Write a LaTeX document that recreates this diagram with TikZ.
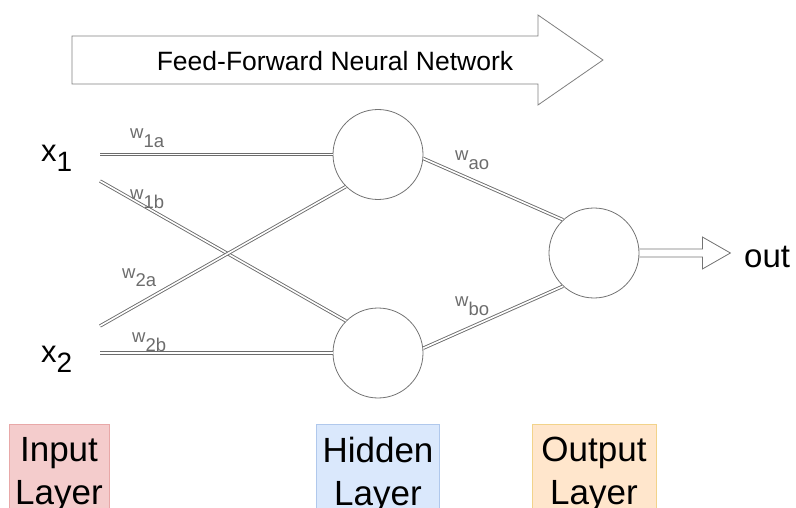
\documentclass[tikz,border=0pt]{standalone}
\usepackage{fontspec}
\setmainfont{Liberation Sans}
\usepackage{xcolor}
\usetikzlibrary{calc}

\definecolor{inputfill}{HTML}{F4CCCC}
\definecolor{inputline}{HTML}{E8A8A8}
\definecolor{hiddenfill}{HTML}{DAE8FC}
\definecolor{hiddenline}{HTML}{B0C8EC}
\definecolor{outputfill}{HTML}{FFE6CC}
\definecolor{outputline}{HTML}{F2D38A}

\newcommand{\wsub}[1]{w\raisebox{-9pt}{#1}}
\newcommand{\xsub}[1]{x\raisebox{-10pt}{\fontsize{28}{30}\selectfont #1}}

\begin{document}
\begin{tikzpicture}[x=1pt, y=-1pt]
\tikzset{
  neuron/.style={draw=gray!90!black, fill=white, circle, minimum size=90pt, inner sep=0pt, line width=0.8pt},
  wire/.style={draw=gray!85!black, double=white, double distance=1.6pt, line width=0.9pt},
  wlabel/.style={text=gray!85!black, font=\fontsize{18.5}{20}\selectfont, inner sep=0pt, anchor=base west},
  inlabel/.style={font=\fontsize{31}{33}\selectfont, inner sep=0pt, anchor=base west},
  layer/.style={draw, line width=0.8pt, anchor=north, align=center, inner xsep=6pt, inner ysep=13pt, font=\fontsize{35}{43}\selectfont},
}
\useasboundingbox (0,0) rectangle (796,508);
\clip (0,0) rectangle (796,508);

\draw[gray, line width=0.8pt, fill=white] (72,36) -- (538,36) -- (538,15) -- (603,60) -- (538,105) -- (538,84) -- (72,84) -- cycle;
\node[font=\fontsize{26.5}{30}\selectfont, anchor=base] (title) at (335,71) {Feed-Forward Neural Network};

\node[inlabel] (x1) at (41,162) {\xsub{1}};
\node[inlabel] (x2) at (41,362) {\xsub{2}};
\coordinate (s1a) at (100,154.5);
\coordinate (s1b) at (100,181);
\coordinate (s2a) at (100,326);
\coordinate (s2b) at (100,353);

\node[neuron] (h1) at (378,154.5) {};
\node[neuron] (h2) at (378,353) {};
\node[neuron] (o) at (594,253) {};

\draw[wire] (s1a) -- (h1.west);
\draw[wire] (s1b) -- (h2.135);
\draw[wire] (s2a) -- (h1.225);
\draw[wire] (s2b) -- (h2.west);
\draw[wire] (h1.-5) -- (o.133);
\draw[wire] (h2.6) -- (o.227);

\node[wlabel] (w1a) at (130,139) {\wsub{1a}};
\node[wlabel] (w1b) at (130,200) {\wsub{1b}};
\node[wlabel] (w2a) at (122,278) {\wsub{2a}};
\node[wlabel] (w2b) at (132,342) {\wsub{2b}};
\node[wlabel] (wao) at (455,161) {\wsub{ao}};
\node[wlabel] (wbo) at (455,306) {\wsub{bo}};

\draw[gray!90!black, line width=0.8pt] (o.east) ++(0,-4) -- ++(63,0) -- ++(0,-12) -- ++(28,16) -- ++(-28,16) -- ++(0,-12) -- ++(-63,0);
\node[font=\fontsize{33}{36}\selectfont, anchor=base west, inner sep=0pt] (outlbl) at (744,267) {out};

\node[layer, fill=inputfill, draw=inputline, minimum width=100pt] (inl) at (59,424) {Input\\Layer};
\node[layer, fill=hiddenfill, draw=hiddenline] (hidl) at (378,424) {Hidden\\Layer};
\node[layer, fill=outputfill, draw=outputline, minimum width=124pt] (outl) at (594,424) {Output\\Layer};
\end{tikzpicture}
\end{document}
